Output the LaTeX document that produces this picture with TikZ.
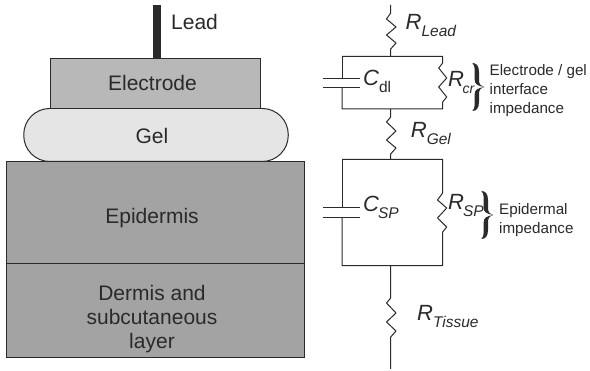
\documentclass[tikz,border=0pt]{standalone}
\usepackage{fontspec}
\setmainfont{Liberation Sans}
\newcommand\sublabel[3][\itshape]{{\fontsize{22}{22}\selectfont\itshape #2}\raisebox{-6.5pt}{\fontsize{15.5}{15.5}\selectfont #1#3}}
\newcommand\curlybrace[3]{% x, y of tip, height scale
  \fill[ink,shift={(#1,#2)},yscale=#3]
    (-12,-24) .. controls (-8,-24) and (-5.5,-21) .. (-5.5,-15) -- (-5.5,-7)
    .. controls (-5.5,-3) and (-4,-1) .. (0,0)
    .. controls (-4,1) and (-5.5,3) .. (-5.5,7) -- (-5.5,15)
    .. controls (-5.5,21) and (-8,24) .. (-12,24) -- (-12,23)
    .. controls (-10.5,23) and (-9.8,20) .. (-9.8,15) -- (-9.8,7)
    .. controls (-9.8,3) and (-7,1) .. (0,0)
    .. controls (-7,-1) and (-9.8,-3) .. (-9.8,-7) -- (-9.8,-15)
    .. controls (-9.8,-20) and (-10.5,-23) .. (-12,-23) -- cycle;}
\definecolor{ink}{HTML}{2A2A2A}
\definecolor{skin}{HTML}{A2A3A2}
\tikzset{
  layer/.style={draw=ink,line width=1pt,rectangle,inner sep=0pt},
  ltext/.style={inner sep=0pt,text=ink,font=\fontsize{21}{24}\selectfont,align=center},
  wire/.style={draw=ink,line width=1pt,line join=miter},
  lab/.style={inner sep=0pt,anchor=base west,text=ink},
  note/.style={inner sep=0pt,anchor=west,text=ink,font=\fontsize{15.2}{19}\selectfont,align=left},
}
\begin{document}
\begin{tikzpicture}[x=1pt,y=-1pt]
\useasboundingbox (0,0) rectangle (590,371);
% physical stack
\fill[ink] (153,5) rectangle (160.5,58);
\node[layer,fill=skin,minimum width=298pt,minimum height=102.5pt] (epi) at (155,213) {};
\node[layer,fill=skin,minimum width=298pt,minimum height=94pt] (derm) at (155,311) {};
\node[layer,fill=black!10,rounded corners=26pt,minimum width=264.5pt,minimum height=53pt] (gel) at (156,135) {};
\node[layer,fill=black!28,minimum width=210.5pt,minimum height=50pt] (elec) at (155.7,83.3) {};
\node[ltext,anchor=base] (elect) at (152.5,90.5) {Electrode};
\node[ltext,anchor=base] (gelt) at (152,144) {Gel};
\node[ltext,anchor=base] (epit) at (152,224) {Epidermis};
\node[ltext] (dermt) at (152,319.5) {Dermis and\\subcutaneous\\layer};
\node[ltext,anchor=base west] (leadt) at (171,30) {Lead};
% circuit nodes
\coordinate (top) at (390.7,5);
\coordinate (bot) at (390.7,369);
\coordinate (a1) at (342,56.5);  \coordinate (a2) at (442.7,56.5);
\coordinate (b1) at (342,109);   \coordinate (b2) at (442.7,109);
\coordinate (c1) at (342,159.5); \coordinate (c2) at (442.7,159.5);
\coordinate (d1) at (342,265.7); \coordinate (d2) at (442.7,265.7);
\draw[wire] (top) -- (390.7,13) -- (386.5,19) -- (396,27) -- (386.5,35) -- (396,43) -- (390.7,49) -- (390.7,56.5);
\draw[wire] (a1) -- (a2) -- (442.7,63) -- (438.7,68) -- (446.7,78) -- (438.7,87) -- (446.7,97) -- (442.7,102) -- (b2) -- (b1) -- (342,88);
\draw[wire] (342,79) -- (a1);
\draw[wire] (323,79) -- (359.5,79);
\draw[wire] (323,88) -- (359.5,88);
\draw[wire] (390.7,109) -- (390.7,117) -- (386.5,122) -- (396,131) -- (386.5,140) -- (396,148) -- (390.7,154) -- (390.7,159.5);
\draw[wire] (c1) -- (c2) -- (442.7,193) -- (437.5,200) -- (446.7,208) -- (437.5,218) -- (446.7,227) -- (442.7,232) -- (d2) -- (d1) -- (342,217.7);
\draw[wire] (342,208) -- (c1);
\draw[wire] (323,208) -- (359.5,208);
\draw[wire] (323,217.7) -- (359.5,217.7);
\draw[wire] (390.7,265.7) -- (390.7,298) -- (386.5,303) -- (396,313) -- (386.5,322) -- (396,331) -- (390.7,337) -- (bot);
% labels
\node[lab] (rlead) at (405.5,30) {\sublabel{R}{Lead}};
\node[lab] (cdl) at (363,86) {\sublabel[\upshape]{C}{dl}};
\node[lab] (rcr) at (448,87) {\sublabel{R}{\kern-1.5pt\fontsize{14}{14}\selectfont cr}};
\node[lab] (rgel) at (410.7,138) {\sublabel{R}{Gel}};
\node[lab] (csp) at (363,212) {\sublabel{C}{\kern-1pt SP}};
\node[lab] (rsp) at (448,210) {\sublabel{R}{\kern-1pt SP}};
\node[lab] (rtis) at (417,320.7) {\sublabel{R}{Tissue}};
% braces
\curlybrace{484.5}{87}{1}
\curlybrace{493.5}{215}{1}
\node[note] (n1) at (489.5,90.5) {Electrode / gel\\interface\\impedance};
\node[note] (n2) at (499,220) {Epidermal\\impedance};
\end{tikzpicture}
\end{document}
